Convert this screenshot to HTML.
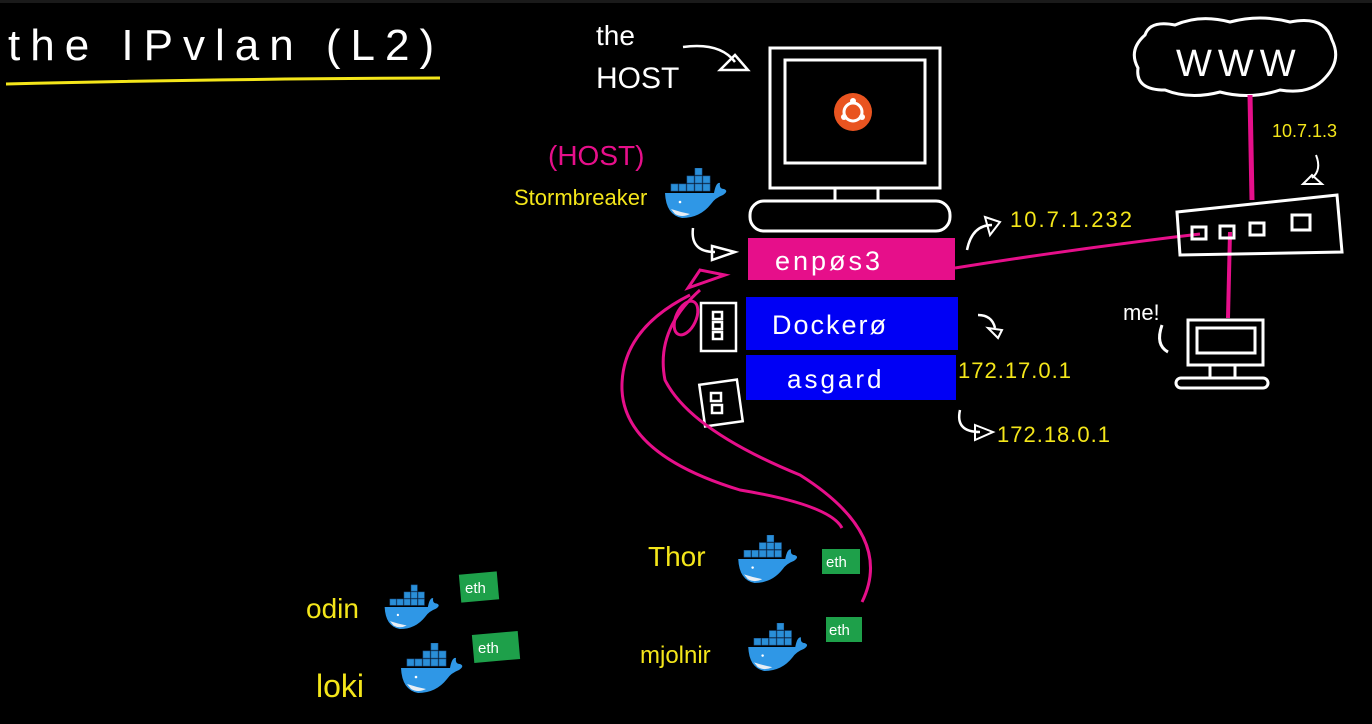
<!DOCTYPE html>
<html><head><meta charset="utf-8"><style>
html,body{margin:0;padding:0;background:#000;}
svg{display:block}
text{font-family:"Liberation Sans",sans-serif}
</style></head><body>
<svg width="1372" height="724" viewBox="0 0 1372 724" xmlns="http://www.w3.org/2000/svg">
<defs>
<symbol id="wh" viewBox="0 0 68 50">
<g fill="#2a8fd8" stroke="#1d5f9e" stroke-width="0.6">
<rect x="33" y="0" width="7" height="7"/>
<rect x="25" y="8" width="7" height="7"/><rect x="33" y="8" width="7" height="7"/><rect x="41" y="8" width="7" height="7"/>
<rect x="9" y="16" width="7" height="7"/><rect x="17" y="16" width="7" height="7"/><rect x="25" y="16" width="7" height="7"/><rect x="33" y="16" width="7" height="7"/><rect x="41" y="16" width="7" height="7"/>
</g>
<path d="M3,25 L52,25 Q54,14 58,15 Q57,21 62,21 Q67,23 61,27 Q53,30 49,36 Q38,50 20,50 Q4,47 3,25Z" fill="#2f97e6"/>
<path d="M9,41 Q18,44 28,46 Q20,50 13,46Z" fill="#e8eef5"/>
<circle cx="18" cy="34" r="1.3" fill="#fff"/>
</symbol>
</defs>
<rect x="0" y="0" width="1372" height="3" fill="#1a1a1a"/>
<!-- title -->
<text x="8" y="60" fill="#fff" font-size="44" letter-spacing="10">the IPvlan (L2)</text>
<path d="M6,84 Q200,79 440,78" stroke="#f4e61a" stroke-width="3" fill="none"/>
<!-- the HOST -->
<text x="596" y="45" fill="#fff" font-size="28">the</text>
<text x="596" y="88" fill="#fff" font-size="30">HOST</text>
<path d="M683,47 Q720,42 735,62" stroke="#fff" stroke-width="2.5" fill="none"/>
<path d="M720,70 L735,55 L748,70Z" stroke="#fff" stroke-width="2.5" fill="none"/>
<!-- monitor -->
<g stroke="#fff" stroke-width="3" fill="none">
<rect x="770" y="48" width="170" height="140"/>
<rect x="785" y="60" width="140" height="103"/>
<path d="M835,188 L835,200 M878,188 L878,200"/>
<rect x="750" y="201" width="200" height="30" rx="14"/>
</g>
<circle cx="853" cy="112" r="19" fill="#e95420"/>
<circle cx="853" cy="112" r="9" fill="none" stroke="#fff" stroke-width="3"/>
<circle cx="853" cy="101" r="3" fill="#fff"/><circle cx="844" cy="117" r="3" fill="#fff"/><circle cx="862" cy="117" r="3" fill="#fff"/>
<!-- interfaces -->
<rect x="748" y="238" width="207" height="42" fill="#e60f8a"/>
<text x="775" y="270" fill="#fff" font-size="27" letter-spacing="3">enpøs3</text>
<rect x="746" y="297" width="212" height="53" fill="#0000f5"/>
<text x="772" y="334" fill="#fff" font-size="27" letter-spacing="2">Dockerø</text>
<rect x="746" y="355" width="210" height="45" fill="#0000f5"/>
<text x="787" y="388" fill="#fff" font-size="26" letter-spacing="3">asgard</text>
<!-- ports -->
<g stroke="#fff" stroke-width="2.5" fill="none">
<rect x="701" y="303" width="35" height="48"/>
<rect x="713" y="312" width="9" height="7"/><rect x="713" y="322" width="9" height="7"/><rect x="713" y="332" width="9" height="7"/>
<rect x="702" y="382" width="38" height="42" transform="rotate(-8 721 403)"/>
<rect x="711" y="393" width="10" height="8"/><rect x="712" y="405" width="10" height="8"/>
</g>
<!-- stormbreaker -->
<text x="548" y="165" fill="#e60f8a" font-size="28">(HOST)</text>
<text x="514" y="205" fill="#f4e61a" font-size="22">Stormbreaker</text>
<use href="#wh" x="662" y="168" width="68" height="50"/>
<path d="M693,228 Q690,252 715,252" stroke="#fff" stroke-width="2.5" fill="none"/>
<path d="M712,246 L735,252 L712,260Z" stroke="#fff" stroke-width="2.5" fill="none"/>
<!-- ip labels -->
<text x="1010" y="227" fill="#f4e61a" font-size="22" letter-spacing="2">10.7.1.232</text>
<path d="M967,250 Q972,225 992,225" stroke="#fff" stroke-width="2.5" fill="none"/>
<path d="M985,217 L1000,222 L990,235Z" stroke="#fff" stroke-width="2" fill="none"/>
<path d="M978,315 Q992,315 995,328" stroke="#fff" stroke-width="2.5" fill="none"/>
<path d="M988,328 L1002,330 L998,338Z" stroke="#fff" stroke-width="2" fill="none"/>
<text x="958" y="378" fill="#f4e61a" font-size="22" letter-spacing="1">172.17.0.1</text>
<path d="M960,410 Q955,432 980,432" stroke="#fff" stroke-width="2.5" fill="none"/>
<path d="M975,425 L993,432 L975,440Z" stroke="#fff" stroke-width="2" fill="none"/>
<text x="997" y="442" fill="#f4e61a" font-size="22" letter-spacing="1">172.18.0.1</text>
<!-- WWW -->
<path d="M1145,35 Q1150,20 1175,25 Q1200,14 1230,22 Q1260,14 1290,22 Q1325,15 1332,40 Q1342,60 1325,78 Q1310,95 1280,90 Q1250,100 1220,92 Q1190,100 1165,90 Q1135,90 1138,68 Q1128,50 1145,35Z" stroke="#fff" stroke-width="3" fill="none"/>
<text x="1176" y="76" fill="#fff" font-size="38" letter-spacing="6">WWW</text>
<!-- links -->
<path d="M1250,95 L1252,200" stroke="#e60f8a" stroke-width="5"/>
<path d="M955,268 Q1080,248 1200,234" stroke="#e60f8a" stroke-width="3" fill="none"/>
<path d="M1230,232 L1228,318" stroke="#e60f8a" stroke-width="4"/>
<!-- switch -->
<text x="1272" y="137" fill="#f4e61a" font-size="18">10.7.1.3</text>
<path d="M1316,155 Q1322,170 1312,178" stroke="#fff" stroke-width="2" fill="none"/>
<path d="M1303,184 L1312,175 L1322,184Z" stroke="#fff" stroke-width="2" fill="none"/>
<g stroke="#fff" stroke-width="3" fill="none">
<path d="M1177,212 L1337,195 L1342,252 L1180,255Z"/>
<rect x="1192" y="227" width="14" height="12"/><rect x="1220" y="226" width="14" height="12"/><rect x="1250" y="223" width="14" height="12"/><rect x="1292" y="215" width="18" height="15"/>
<!-- me computer -->
<rect x="1188" y="320" width="75" height="45"/>
<rect x="1197" y="328" width="58" height="25"/>
<path d="M1210,365 L1210,378 M1235,365 L1235,378"/>
<rect x="1176" y="378" width="92" height="10" rx="5"/>
<path d="M1162,325 Q1155,345 1168,352"/>
</g>
<text x="1123" y="320" fill="#fff" font-size="22">me!</text>
<!-- magenta curves -->
<g stroke="#e60f8a" stroke-width="3" fill="none">
<path d="M842,528 Q830,505 740,490 Q625,455 622,390 Q620,330 690,295"/>
<path d="M862,602 Q895,535 800,475 Q690,430 665,380 Q655,330 700,290"/>
<path d="M688,288 L725,275 L700,270Z"/>
<ellipse cx="686" cy="318" rx="10" ry="18" transform="rotate(25 686 318)"/>
</g>
<!-- containers -->
<text x="648" y="566" fill="#f4e61a" font-size="28">Thor</text>
<use href="#wh" x="735" y="535" width="66" height="48"/>
<rect x="822" y="549" width="38" height="25" fill="#1ea04a"/>
<text x="826" y="567" fill="#fff" font-size="15">eth</text>
<text x="640" y="663" fill="#f4e61a" font-size="24">mjolnir</text>
<use href="#wh" x="745" y="623" width="66" height="48"/>
<rect x="826" y="617" width="36" height="25" fill="#1ea04a"/>
<text x="829" y="635" fill="#fff" font-size="15">eth</text>
<text x="306" y="618" fill="#f4e61a" font-size="28">odin</text>
<use href="#wh" x="382" y="583" width="60" height="48"/>
<rect x="460" y="573" width="38" height="28" fill="#1ea04a" transform="rotate(-5 479 587)"/>
<text x="465" y="593" fill="#fff" font-size="15">eth</text>
<text x="316" y="697" fill="#f4e61a" font-size="32">loki</text>
<use href="#wh" x="398" y="643" width="68" height="50"/>
<rect x="473" y="633" width="46" height="28" fill="#1ea04a" transform="rotate(-5 496 647)"/>
<text x="478" y="653" fill="#fff" font-size="15">eth</text>
</svg>
</body></html>
